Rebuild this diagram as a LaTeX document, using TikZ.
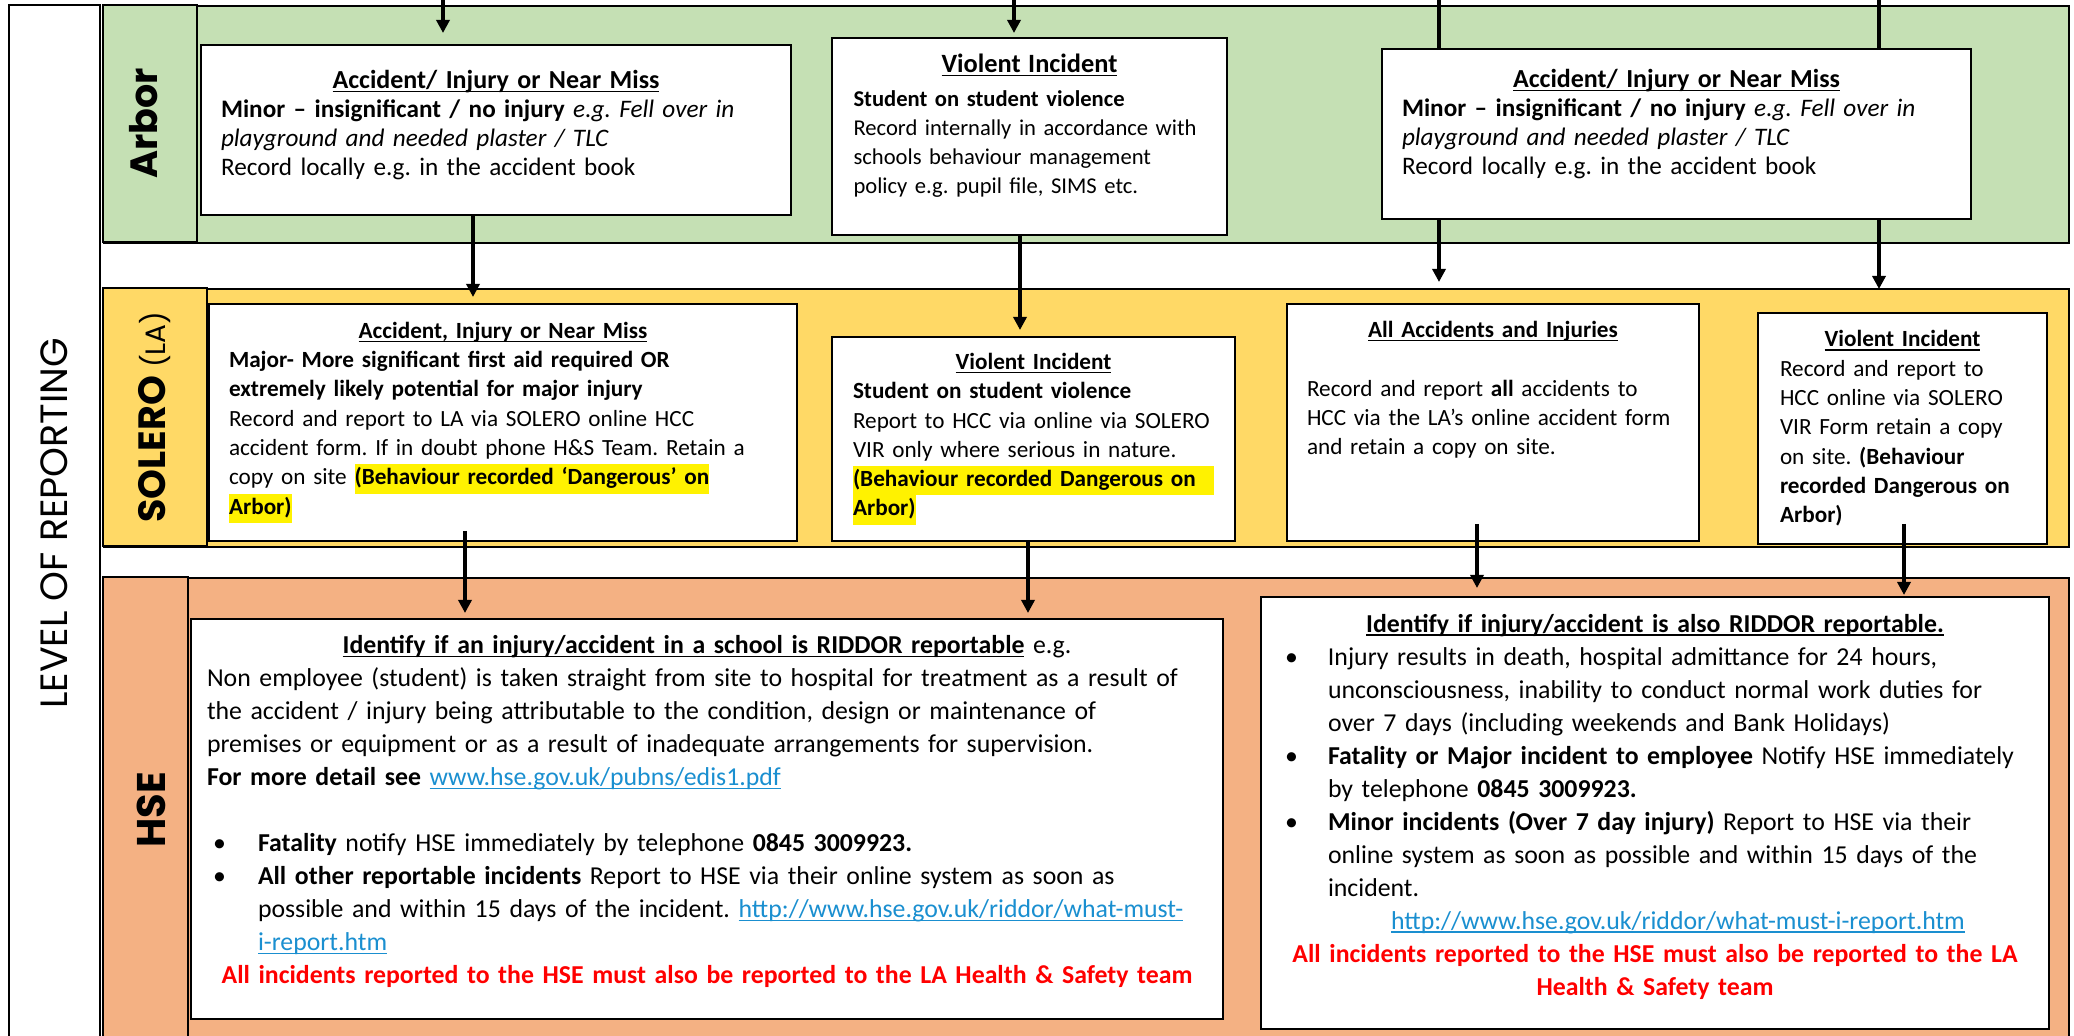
\documentclass[tikz,border=0pt]{standalone}
\usepackage{fontspec}
\setmainfont{Carlito}
\newfontfamily\gothic{Poppins}
\usetikzlibrary{arrows.meta}
\frenchspacing
\definecolor{arborgreen}{HTML}{C5E0B4}
\definecolor{sologold}{HTML}{FFD966}
\definecolor{hseorange}{HTML}{F4B183}
\definecolor{weblink}{HTML}{1A8FD0}
\definecolor{alertred}{HTML}{FF0000}
\newsavebox\ulinebox
\newcommand\uln[1]{\sbox\ulinebox{#1}\rlap{\rule[-1.8pt]{\wd\ulinebox}{0.6pt}}\usebox\ulinebox}
\newcommand\weblnk[1]{{\color{weblink}\uln{#1}}}
\newcommand\marker[1]{{\setlength{\fboxsep}{0pt}\colorbox{yellow}{\strut#1}}}
\newcommand\bul[1]{\makebox[#1][l]{\textbullet}}
\newcommand\lift[1]{\rule[-#1]{0pt}{#1}}
\begin{document}
\begin{tikzpicture}[x=0.5pt,y=-0.5pt,>={Triangle[length=6.5pt,width=6.5pt]},
  tier/.style={draw, line width=0.9pt, anchor=north west, inner sep=0pt},
  tierlabel/.style={draw, line width=0.9pt, rotate=90, inner sep=0pt, font=\gothic},
  card/.style={draw, line width=1pt, fill=white, anchor=north west, align=left, inner ysep=0pt, font=\fontsize{11.6}{14.65}\selectfont},
  arbcard/.style={card, font=\fontsize{12.6}{14.5}\selectfont},
  hsecard/.style={card, font=\fontsize{12.9}{16.5}\selectfont},
  flow/.style={->, line width=2.2pt},
  wire/.style={line width=2.2pt}]
\path[use as bounding box] (0,0) rectangle (2074,1036);
\fill[white] (0,0) rectangle (2074,1036);

\node[tierlabel, minimum width=518.5pt, minimum height=45.5pt] (levellab) at (54.5,523.5) {\fontsize{19}{22}\selectfont LEVEL OF REPORTING};

\node[tier, fill=arborgreen, minimum width=982.5pt, minimum height=118.5pt] (arbor) at (103,5) {};
\node[tier, fill=sologold, minimum width=982.5pt, minimum height=129pt] (solero) at (103,288) {};
\node[tier, fill=hseorange, minimum width=982.5pt, minimum height=233pt] (hse) at (103,577) {};
\node[tierlabel, fill=arborgreen, minimum width=118.5pt, minimum height=47pt] (arborlab) at (150,123.5) {\fontsize{19}{24}\selectfont\bfseries\raisebox{3pt}[\height][\depth]{Arbor}};
\node[tierlabel, fill=sologold, minimum width=129pt, minimum height=52pt] (sololab) at (155,417) {\fontsize{19}{24}\selectfont\bfseries SOLERO \fontsize{14}{18}\selectfont\mdseries(LA)};
\node[tierlabel, fill=hseorange, minimum width=233pt, minimum height=42.5pt] (hselab) at (145.5,810) {\fontsize{20}{24}\selectfont\bfseries\raisebox{-3pt}[\height][\depth]{HSE}};

\node[arbcard, minimum width=295pt, minimum height=85pt, text width=275pt] (arb1) at (200,44) {%
\makebox[\linewidth]{\fontsize{13}{14.5}\selectfont\textbf{\uln{Accident/ Injury or Near Miss}}}\\
\textbf{Minor – insignificant / no injury} \textit{e.g. Fell over in}\\
\textit{playground and needed plaster / TLC}\\
Record locally e.g. in the accident book\lift{7pt}};
\node[arbcard, minimum width=197.5pt, minimum height=98.5pt, text width=176pt, font=\fontsize{11.3}{14.5}\selectfont] (arb2) at (831,37) {%
\makebox[\linewidth]{\fontsize{13.2}{14.5}\selectfont\textbf{\uln{Violent Incident}}}\\[2.5pt]
\makebox[\linewidth][s]{\textbf{Student on student violence}}\\
\makebox[\linewidth][s]{Record internally in accordance with}\\
\makebox[\linewidth][s]{schools behaviour management}\\
policy e.g. pupil file, SIMS etc.\lift{12.5pt}};
\node[arbcard, minimum width=294.5pt, minimum height=85pt, text width=274.5pt] (arb3) at (1381,48) {%
\makebox[\linewidth]{\fontsize{13}{14.5}\selectfont\textbf{\uln{Accident/ Injury or Near Miss}}}\\
\textbf{Minor – insignificant / no injury} \textit{e.g. Fell over in}\\
\textit{playground and needed plaster / TLC}\\
Record locally e.g. in the accident book\lift{12pt}};

\node[card, minimum width=294pt, minimum height=118.5pt, text width=274pt] (sol1) at (208,303) {%
\makebox[\linewidth]{\textbf{\uln{Accident, Injury or Near Miss}}}\\
\textbf{Major- More significant first aid required OR}\\
\textbf{extremely likely potential for major injury}\\
Record and report to LA via SOLERO online HCC\\
accident form. If in doubt phone H\&S Team. Retain a\\
copy on site \marker{\textbf{(Behaviour recorded ‘Dangerous’ on}}\\
\marker{\textbf{Arbor)}}};
\node[card, minimum width=201.5pt, minimum height=102pt, text width=180.5pt] (sol2) at (831,336) {%
\makebox[\linewidth]{\textbf{\uln{Violent Incident}}}\\
\textbf{Student on student violence}\\
\makebox[\linewidth][s]{Report to HCC via online via SOLERO}\\
\makebox[\linewidth][s]{VIR only where serious in nature.}\\
\marker{\makebox[\linewidth][s]{\textbf{(Behaviour recorded Dangerous on}}}\\
\marker{\textbf{Arbor)}}};
\node[card, minimum width=206pt, minimum height=118.5pt, text width=186pt] (sol3) at (1286,303) {%
\makebox[\linewidth]{\textbf{\uln{All Accidents and Injuries}}}\\
\mbox{}\\
Record and report \textbf{all} accidents to\\
HCC via the LA’s online accident form\\
and retain a copy on site.\\
\mbox{}\\
\mbox{}\lift{5pt}};
\node[card, minimum width=144.5pt, minimum height=115.5pt, text width=122.5pt] (sol4) at (1757,312) {%
\makebox[\linewidth]{\textbf{\uln{Violent Incident}}}\\
Record and report to\\
HCC online via SOLERO\\
VIR Form retain a copy\\
on site. \textbf{(Behaviour}\\
\textbf{recorded Dangerous on}\\
\textbf{Arbor)}};

\node[hsecard, minimum width=516pt, minimum height=200pt, text width=500pt] (hse1) at (190,618) {%
\makebox[\linewidth]{\textbf{\uln{Identify if an injury/accident in a school is RIDDOR reportable}} e.g.}\\
Non employee (student) is taken straight from site to hospital for treatment as a result of\\
the accident / injury being attributable to the condition, design or maintenance of\\
premises or equipment or as a result of inadequate arrangements for supervision.\\
\textbf{For more detail see} \weblnk{www.hse.gov.uk/pubns/edis1.pdf}\\
\mbox{}\\
\hspace*{3pt}\bul{22.5pt}\textbf{Fatality} notify HSE immediately by telephone \textbf{0845 3009923.}\\
\hspace*{3pt}\bul{22.5pt}\textbf{All other reportable incidents} Report to HSE via their online system as soon as\\
\hspace*{25.5pt}possible and within 15 days of the incident. \weblnk{http://www.hse.gov.uk/riddor/what-must-}\\
\hspace*{25.5pt}\weblnk{i-report.htm}\\
\makebox[\linewidth]{\color{alertred}\textbf{All incidents reported to the HSE must also be reported to the LA Health \& Safety team}}\lift{9.5pt}};
\node[hsecard, minimum width=394pt, minimum height=216pt, text width=376pt] (hse2) at (1260,596) {%
\makebox[\linewidth]{\textbf{\uln{Identify if injury/accident is also RIDDOR reportable.}}}\\
\hspace*{3pt}\bul{21.5pt}Injury results in death, hospital admittance for 24 hours,\\
\hspace*{24.5pt}unconsciousness, inability to conduct normal work duties for\\
\hspace*{24.5pt}over 7 days (including weekends and Bank Holidays)\\
\hspace*{3pt}\bul{21.5pt}\textbf{Fatality or Major incident to employee} Notify HSE immediately\\
\hspace*{24.5pt}by telephone \textbf{0845 3009923.}\\
\hspace*{3pt}\bul{21.5pt}\textbf{Minor incidents (Over 7 day injury)} Report to HSE via their\\
\hspace*{24.5pt}online system as soon as possible and within 15 days of the\\
\hspace*{24.5pt}incident.\\
\makebox[\linewidth]{\hspace*{23pt}\weblnk{http://www.hse.gov.uk/riddor/what-must-i-report.htm}}\\
\makebox[\linewidth]{\color{alertred}\textbf{All incidents reported to the HSE must also be reported to the LA}}\\
\makebox[\linewidth]{\color{alertred}\textbf{Health \& Safety team}}\lift{8.5pt}};

\coordinate (in1) at (443,0);
\coordinate (in2) at (1014,0);
\coordinate (in3) at (1439,0);
\coordinate (in4) at (1879,0);
\draw[flow, shorten >=5.5pt] (in1) -- (arb1.north -| in1);
\draw[flow, shorten >=2pt] (in2) -- (arb2.north -| in2);
\draw[wire] (in3) -- (arb3.north -| in3);
\draw[wire] (in4) -- (arb3.north -| in4);
\draw[flow, shorten >=3pt] (arb1.south -| 473,0) -- (sol1.north -| 473,0);
\draw[flow, shorten >=3pt] (arb2.south -| 1020,0) -- (sol2.north -| 1020,0);
\draw[flow, shorten >=10.5pt] (arb3.south -| in3) -- (sol3.north -| in3);
\draw[flow, shorten >=11.5pt] (arb3.south -| in4) -- (sol4.north -| in4);
\draw[flow, shorten >=2.5pt] ([yshift=5.5pt]sol1.south -| 465,0) -- (hse1.north -| 465,0);
\draw[flow, shorten >=2.5pt] (sol2.south -| 1028,0) -- (hse1.north -| 1028,0);
\draw[flow, shorten >=4pt] ([yshift=9pt]sol3.south -| 1477,0) -- (hse2.north -| 1477,0);
\draw[flow, shorten >=0.5pt] ([yshift=10.5pt]sol4.south -| 1904,0) -- (hse2.north -| 1904,0);
\end{tikzpicture}
\end{document}
